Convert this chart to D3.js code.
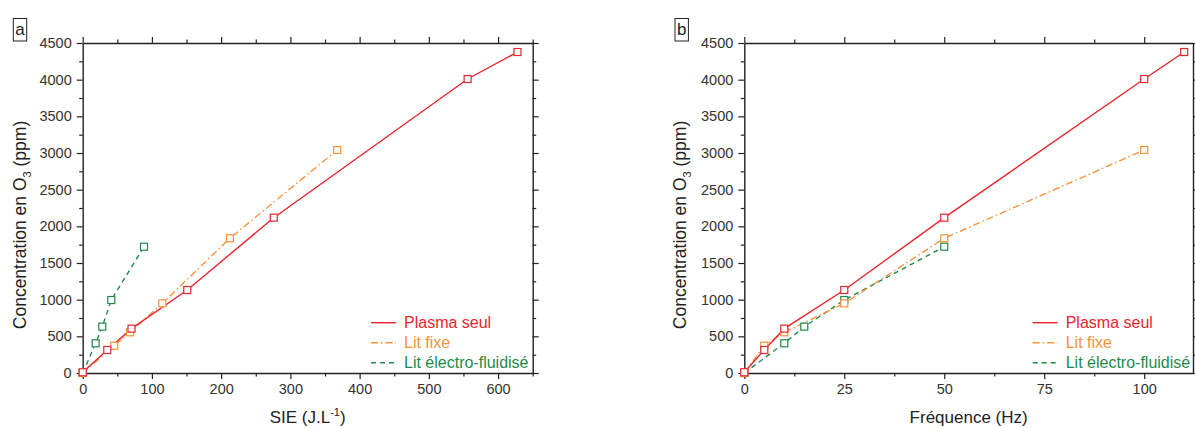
<!DOCTYPE html>
<html><head><meta charset="utf-8">
<script src="https://cdn.jsdelivr.net/npm/d3@7"></script>
<style>body{margin:0;background:#fff}svg{display:block;font-family:"Liberation Sans",Arial,sans-serif}</style>
</head><body>
<svg id="chart" width="1195" height="428"></svg>
<script>
// Panel a: SIE (J.L-1)
const sieRed = [0, 35.5, 70.5, 151, 276, 556, 628];
const concRed = [10, 314, 605, 1132, 2118, 4009, 4377];
const sieOrange = [0, 45.5, 68.3, 115, 212.6, 367.6];
const concOrange = [0, 372, 555, 950, 1837, 3041];
const sieGreen = [0, 18.7, 28.3, 41.3, 88.5];
const concGreen = [0, 405, 632, 995, 1722];
// Panel b: frequency (Hz)
const freqRed = [0, 5, 10, 25, 50, 100, 110];
const freqOrange = [0, 5, 10, 25, 50, 100];
const freqGreen = [0, 10, 15, 25, 50];
const seriesNames = ["Plasma seul", "Lit fixe", "Lit électro-fluidisé"];
const seriesColors = ["#e8262d", "#f7923a", "#1f8a4c"];
const dashes = [null, "7,3,1.5,3", "5,4"];
const xTicksA = [0, 100, 200, 300, 400, 500, 600];
const xTicksB = [0, 25, 50, 75, 100];
const yTicks = [0, 500, 1000, 1500, 2000, 2500, 3000, 3500, 4000, 4500];

const svg = d3.select("#chart");

function panel(opt) {
  const g = svg.append("g");
  const x = d3.scaleLinear().domain(opt.xDomain).range([opt.left, opt.right]);
  const y = d3.scaleLinear().domain([0, 4500]).range([373, 43]);
  const axCol = "#222";
  // minor ticks
  const minorX = d3.range(opt.xDomain[0], opt.xDomain[1] + 0.001, opt.xMinor).filter(v => !opt.xTicks.includes(v));
  const minorY = d3.range(0, 4501, 250).filter(v => !yTicks.includes(v));
  function axisGen(axis, scale, ticks, len, labels) {
    return axis(scale).tickValues(ticks).tickSize(len).tickSizeOuter(0).tickFormat(labels ? d3.format("d") : "");
  }
  const axes = [
    [d3.axisBottom, x, 373, 0, true, opt.xTicks, minorX],
    [d3.axisTop, x, 43, 0, false, opt.xTicks, minorX],
    [d3.axisLeft, y, 0, opt.left, true, yTicks, minorY],
    [d3.axisRight, y, 0, opt.right, false, yTicks, minorY]
  ];
  axes.forEach(([ax, sc, ty, tx, lab, maj, min]) => {
    const gm = g.append("g").attr("transform", `translate(${tx},${ty})`).call(axisGen(ax, sc, min, 3.5, false));
    gm.select(".domain").remove();
    gm.selectAll("line").attr("stroke", axCol).attr("stroke-width", 1.2);
    const ga = g.append("g").attr("transform", `translate(${tx},${ty})`).call(axisGen(ax, sc, maj, 6, lab).tickPadding(5));
    ga.select(".domain").attr("stroke", axCol).attr("stroke-width", 1.4);
    ga.selectAll("line").attr("stroke", axCol).attr("stroke-width", 1.2);
    ga.selectAll("text").attr("fill", "#333").style("font-size", "14.5px").style("font-family", "Liberation Sans, Arial, sans-serif");
  });
  // series
  const order = [2, 1, 0];
  const line = d3.line().x(d => x(d[0])).y(d => y(d[1]));
  order.forEach(i => {
    const pts = d3.zip(opt.xs[i], opt.ys[i]);
    g.append("path").datum(pts).attr("d", line).attr("fill", "none")
      .attr("stroke", seriesColors[i]).attr("stroke-width", 1.4)
      .attr("stroke-dasharray", dashes[i]);
  });
  order.forEach(i => {
    const pts = d3.zip(opt.xs[i], opt.ys[i]);
    g.selectAll(null).data(pts).enter().append("rect")
      .attr("x", d => x(d[0]) - 3.5).attr("y", d => y(d[1]) - 3.5)
      .attr("width", 7).attr("height", 7)
      .attr("fill", "#fff").attr("stroke", seriesColors[i]).attr("stroke-width", 1.2);
  });
  // legend
  seriesNames.forEach((name, i) => {
    const ly = 322.7 + i * 20;
    g.append("line").attr("x1", opt.legX).attr("x2", opt.legX + 25).attr("y1", ly).attr("y2", ly)
      .attr("stroke", seriesColors[i]).attr("stroke-width", 1.4).attr("stroke-dasharray", dashes[i]);
    g.append("text").attr("x", opt.legX + 33).attr("y", ly + 5.7).attr("fill", seriesColors[i])
      .style("font-size", "16px").text(name);
  });
  // y title
  const yt = g.append("text").attr("transform", `translate(${opt.yTitleX},225) rotate(-90)`)
    .attr("text-anchor", "middle").attr("fill", "#222").style("font-size", "17.5px");
  yt.append("tspan").text("Concentration en O");
  yt.append("tspan").attr("dy", 5).style("font-size", "11px").text("3");
  yt.append("tspan").attr("dy", -5).text(" (ppm)");
  // x title
  const xt = g.append("text").attr("x", (opt.left + opt.right) / 2).attr("y", 423)
    .attr("text-anchor", "middle").attr("fill", "#222").style("font-size", "17px");
  opt.xTitle(xt);
  // panel label box
  g.append("rect").attr("x", opt.boxX).attr("y", 18.5).attr("width", 13.4).attr("height", 22.5)
    .attr("fill", "#fff").attr("stroke", "#222").attr("stroke-width", 1);
  g.append("text").attr("x", opt.boxX + 6.7).attr("y", 35).attr("text-anchor", "middle")
    .attr("fill", "#222").style("font-size", "17px").text(opt.label);
}

panel({
  left: 82.7, right: 532.7, xDomain: [0, 650], xTicks: xTicksA, xMinor: 50,
  xs: [sieRed, sieOrange, sieGreen], ys: [concRed, concOrange, concGreen],
  legX: 371, yTitleX: 26, boxX: 13.3, label: "a",
  xTitle: t => { t.append("tspan").text("SIE (J.L"); t.append("tspan").attr("dy", -7).style("font-size", "11px").text("-1"); t.append("tspan").attr("dy", 7).text(")"); }
});
panel({
  left: 744.3, right: 1193, xDomain: [0, 112.2], xTicks: xTicksB, xMinor: 12.5,
  xs: [freqRed, freqOrange, freqGreen], ys: [concRed, concOrange, concGreen],
  legX: 1032.7, yTitleX: 686, boxX: 675, label: "b",
  xTitle: t => t.text("Fréquence (Hz)")
});
</script>
</body></html>
